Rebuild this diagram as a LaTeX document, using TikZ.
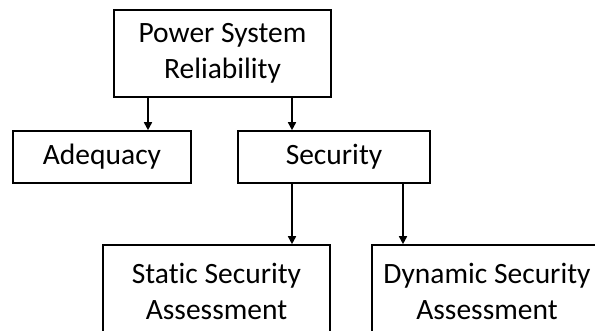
\documentclass[tikz,border=0pt]{standalone}
\usepackage{fontspec}
\setmainfont[RawFeature=-liga]{Carlito}
\usetikzlibrary{arrows.meta}
\tikzset{
  box/.style={draw=black, line width=1.6pt, fill=white, align=center, inner sep=0pt,
    font=\fontsize{29.5}{36}\selectfont},
  arr/.style={line width=1.6pt, -{Triangle[length=8pt,width=8pt]}}
}
\begin{document}
\begin{tikzpicture}[x=1pt,y=-1pt]
  \fill[white] (0,0) rectangle (595,331);
  \useasboundingbox (0,0) rectangle (595,331);
  \clip (0,0) rectangle (595,331);

  % hierarchy boxes
  \node[box, minimum width=217pt, minimum height=87pt] (rel) at (222.5,53.5) {Power System\\Reliability};
  \node[box, minimum width=178pt, minimum height=52pt] (ade) at (102,157) {Adequacy};
  \node[box, minimum width=192pt, minimum height=52pt] (sec) at (334,157) {Security};
  \node[box, minimum width=227pt, minimum height=92pt] (ssa) at (216.5,291) {Static Security\\Assessment};
  \node[box, minimum width=230pt, minimum height=92pt] (dsa) at (487,291) {Dynamic Security\\Assessment};

  % connectors
  \coordinate (xa) at (148,0);
  \coordinate (xb) at (292,0);
  \coordinate (xc) at (403,0);
  \draw[arr] (rel.south -| xa) -- (ade.north -| xa);
  \draw[arr] (rel.south -| xb) -- (sec.north -| xb);
  \draw[arr] (sec.south -| xb) -- (ssa.north -| xb);
  \draw[arr] (sec.south -| xc) -- (dsa.north -| xc);
\end{tikzpicture}
\end{document}
